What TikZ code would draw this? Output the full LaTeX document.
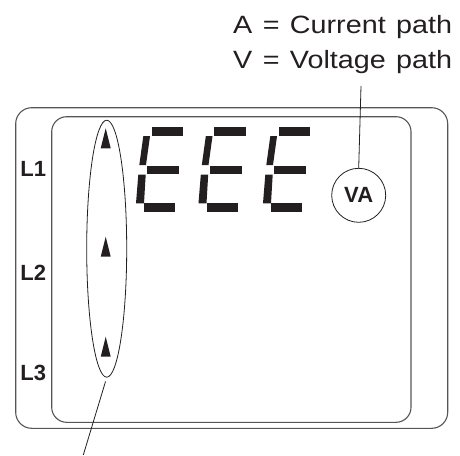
\documentclass[tikz,border=0pt]{standalone}
\usepackage{fontspec}
\setmainfont{Liberation Sans}
\newfontfamily\legendfont[FakeStretch=1.15,WordSpace=1.3]{Liberation Sans}
\usepackage{tikz}
\usetikzlibrary{shapes.geometric,positioning}
\definecolor{inkblack}{RGB}{35,31,32}
\definecolor{framegray}{RGB}{85,85,85}
\tikzset{
  lcdframe/.style={draw=framegray, line width=1.1pt, rounded corners=16pt},
  segment/.style={fill=inkblack},
  marker/.style={fill=inkblack},
  phaselabel/.style={font=\fontsize{22}{22}\selectfont\bfseries, text=inkblack, inner sep=0pt},
  legendtext/.style={font=\legendfont\fontsize{25}{30}\selectfont, text=inkblack,
                     inner sep=0pt, anchor=base west},
  leader/.style={draw=inkblack, line width=0.8pt},
}

\begin{document}
\begin{tikzpicture}[x=1pt,y=-1pt]
  \useasboundingbox (0,0) rectangle (460,455);

  % housing and display window
  \draw[lcdframe] (15.7,107.7) rectangle (447.7,428.3);
  \draw[lcdframe, rounded corners=15pt] (51.7,116.7) rectangle (411,422.3);

  % phase labels
  \node[phaselabel] (l1) at (33.3,168.7) {L1};
  \node[phaselabel] (l2) at (33.3,273.3) {L2};
  \node[phaselabel] (l3) at (33.3,373.3) {L3};

  % seven segment digits
  \foreach \dx in {0,62.5,127}{
    \begin{scope}[xshift=\dx pt]
      \fill[segment] (151.7,127.3) rectangle (183.3,135.7);
      \fill[segment] (143.3,136.2) -- (150,136.2) -- (146,165) -- (139.3,165) -- cycle;
      \fill[segment] (147.3,165.7) rectangle (179.3,174);
      \fill[segment] (138.3,174.6) -- (145.7,174.6) -- (144,203.3) -- (136,203.3) -- cycle;
      \fill[segment] (144,203.3) rectangle (175,211.7);
    \end{scope}
  }

  % phase markers
  \node[draw=inkblack, line width=0.8pt, ellipse, minimum width=40pt,
        minimum height=257pt, inner sep=0pt] (phases) at (106.7,248.7) {};
  \foreach \ty in {128.3,236.7,336.7}
    \fill[marker] (105.7,\ty) -- (110.7,\ty+20) -- (100.7,\ty+20) -- cycle;

  % VA symbol
  \node[circle, draw=inkblack, line width=0.8pt, minimum size=54pt, inner sep=0pt,
        font=\fontsize{22}{22}\selectfont\bfseries, text=inkblack] (va) at (358.7,195.3) {VA};

  % legend
  \node[legendtext] (legA) at (233,33.3) {A = Current path};
  \node[legendtext] (legV) at (233,68.3) {V = Voltage path};

  % leaders
  \coordinate (vatip) at (361,86);
  \draw[leader] (va.north) -- (vatip);
  \coordinate (phtip) at (83.3,455);
  \draw[leader, shorten <=4pt] (phases.south) -- (phtip);
\end{tikzpicture}
\end{document}
